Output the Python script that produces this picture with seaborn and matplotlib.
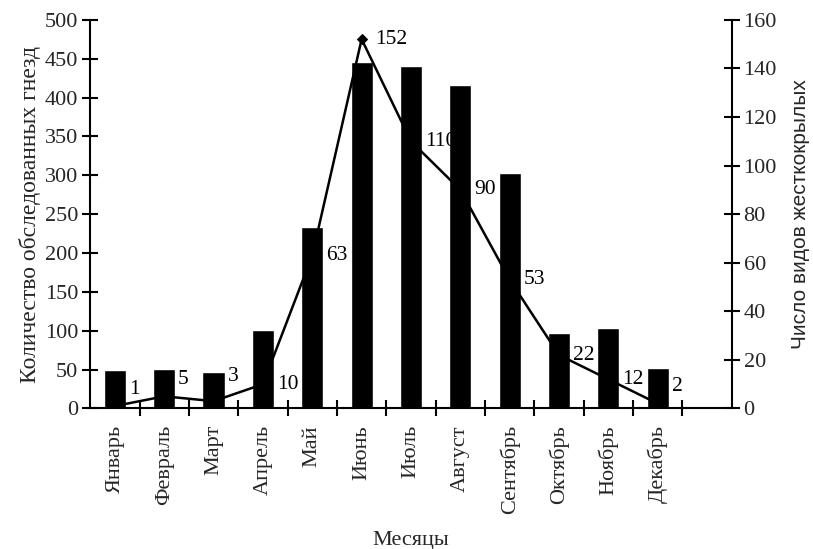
import numpy as np
import pandas as pd
import matplotlib
matplotlib.use("Agg")
import matplotlib.pyplot as plt
import seaborn as sns

months = ["Январь", "Февраль", "Март", "Апрель", "Май", "Июнь",
          "Июль", "Август", "Сентябрь", "Октябрь", "Ноябрь", "Декабрь"]
nests = [49, 51, 47, 101, 233, 446, 440, 416, 303, 97, 104, 52]
species = [1, 5, 3, 10, 63, 152, 110, 90, 53, 22, 12, 2]
# vertical label nudges (points) for the species labels
label_dy = [12, 12, 18, 0, 0, 0, 0, 0, 0, 0, 0, 12]

sns.set_theme(style="white")
plt.rcParams['font.family'] = ['Liberation Serif', 'DejaVu Serif']

df = pd.DataFrame({"month": months, "nests": nests, "species": species,
                   "pos": np.arange(len(months))})

fig = plt.figure(figsize=(8.13, 5.49), dpi=100)
ax = fig.add_axes([0.111, 0.256, 0.789, 0.708])

sns.barplot(data=df, x="month", y="nests", color="black", width=0.45,
            saturation=1, ax=ax, zorder=2)
ax.set_xlim(-0.5, 12.5)
ax.set_ylim(0, 500)
ax.set_yticks(np.arange(0, 501, 50))

ax2 = ax.twinx()
sns.lineplot(data=df, x="pos", y="species", color="black", linewidth=1.8,
             marker="D", markersize=5, markeredgecolor="black", ax=ax2)
ax2.set_ylim(0, 160)
ax2.set_yticks(np.arange(0, 161, 20))
ax2.set_xlim(-0.5, 12.5)

for x, y, dy in zip(df["pos"], df["species"], label_dy):
    ax2.annotate(str(y), (x, y), xytext=(10, dy), textcoords="offset points",
                 ha="left", va="center", fontsize=15.5, color="black",
                 family=['Liberation Serif'])

# spines
for a in (ax, ax2):
    a.spines["top"].set_visible(False)
    for s in a.spines.values():
        s.set_linewidth(1.5)
        s.set_color("black")
ax.spines["right"].set_visible(False)
ax2.spines["left"].set_visible(False)
ax2.spines["bottom"].set_visible(False)

# x ticks: labels at centres, tick marks at boundaries
ax.set_xticks(df["pos"])
ax.set_xticklabels(months, rotation=90, fontsize=16, va="top")
ax.tick_params(axis="x", which="major", length=0, pad=12)
ax.set_xticks(np.arange(0.5, 12.0, 1.0), minor=True)
ax.tick_params(axis="x", which="minor", direction="inout", length=11,
               width=1.5, color="black", bottom=True)

ax.tick_params(axis="y", which="major", direction="inout", length=11,
               width=1.5, color="black", labelsize=16, left=True, pad=3)
ax2.tick_params(axis="y", which="major", direction="inout", length=11,
                width=1.5, color="black", labelsize=16, right=True, pad=3)

ax.set_xlabel("Месяцы", fontsize=16, labelpad=12)
ax.set_ylabel("Количество обследованных гнезд", fontsize=17, labelpad=3)
ax2.set_ylabel("Число видов жесткокрылых", fontsize=15, labelpad=10,
               family=['Liberation Sans'])
ax.grid(False)
ax2.grid(False)

fig.savefig("out.png", dpi=100, facecolor="white")
